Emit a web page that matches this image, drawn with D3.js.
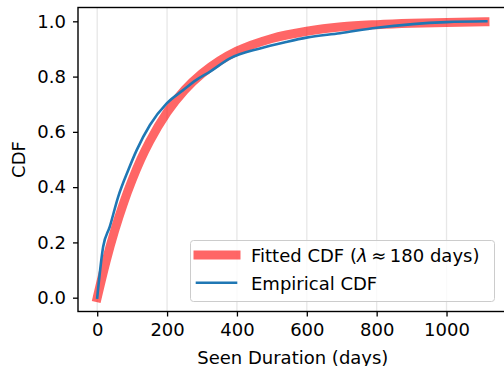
<!DOCTYPE html>
<html>
<head>
<meta charset="utf-8">
<script src="https://cdn.jsdelivr.net/npm/d3@7"></script>
<style>
body{margin:0;background:#fff;}
text{font-family:'DejaVu Sans',sans-serif;fill:#000;}
</style>
</head>
<body>
<script>
// fitted exponential cdf
var fitDays=[0,25,50,75,100,125,150,200,250,300,350,400,500,600,700,800,900,1000,1110];
var fitCdf=[0,0.13,0.243,0.341,0.426,0.501,0.565,0.671,0.751,0.811,0.857,0.892,0.938,0.964,0.980,0.988,0.993,0.996,0.998];
// empirical cdf
var empDays=[0,17,36,60,89,113,151,199,246,284,323,380,466,540,599,695,800,904,1000,1114];
var empCdf=[0,0.184,0.257,0.365,0.462,0.534,0.625,0.703,0.751,0.788,0.818,0.866,0.902,0.925,0.941,0.957,0.977,0.990,0.997,1.0];
var xTicks=[0,200,400,600,800,1000];
var yTicks=[0,0.2,0.4,0.6,0.8,1.0];

var width=504,height=366;
var svg=d3.select('body').append('svg')
  .attr('width',width).attr('height',height);

var xScale=d3.scaleLinear().domain([-55,1176]).range([78,508]);
var yScale=d3.scaleLinear().domain([-0.05,1.05]).range([311.5,7.5]);

// vertical grid
svg.append('g').selectAll('line').data(xTicks).enter().append('line')
  .attr('x1',d=>xScale(d)).attr('x2',d=>xScale(d))
  .attr('y1',yScale(1.05)).attr('y2',yScale(-0.05))
  .style('stroke','#b0b0b0').style('stroke-opacity',0.3).style('stroke-width',1.3);

var line=d3.line().curve(d3.curveMonotoneX)
  .x(d=>xScale(d[0])).y(d=>yScale(d[1]));

svg.append('path')
  .datum(fitDays.map((d,i)=>[d,fitCdf[i]]))
  .attr('d',line)
  .style('fill','none').style('stroke','red').style('stroke-opacity',0.6)
  .style('stroke-width',9).style('stroke-linecap','square').style('stroke-linejoin','round');

svg.append('path')
  .datum(empDays.map((d,i)=>[d,empCdf[i]]))
  .attr('d',line)
  .style('fill','none').style('stroke','#1f77b4')
  .style('stroke-width',2.6).style('stroke-linecap','square').style('stroke-linejoin','round');

// axes
var xAxis=d3.axisBottom(xScale).tickValues(xTicks).tickSize(5).tickPadding(7).tickFormat(d3.format('d'));
var yAxis=d3.axisLeft(yScale).tickValues(yTicks).tickSize(5).tickPadding(7).tickFormat(d3.format('.1f'));

var gx=svg.append('g').attr('transform','translate(0,311.5)').call(xAxis);
var gy=svg.append('g').attr('transform','translate(78,0)').call(yAxis);
[gx,gy].forEach(function(g){
  g.select('.domain').remove();
  g.selectAll('line').style('stroke','#000').style('stroke-width',1.3);
  g.selectAll('text').style('font-size','18px').style('font-family','DejaVu Sans').attr('fill','#000');
});

// spines (right one falls outside the picture)
svg.append('rect')
  .attr('x',78).attr('y',7.5).attr('width',430).attr('height',304)
  .style('fill','none').style('stroke','#000').style('stroke-width',1.4);

svg.append('text')
  .attr('x',xScale(560)).attr('y',364)
  .attr('text-anchor','middle').style('font-size','18px')
  .text('Seen Duration (days)');

svg.append('text')
  .attr('transform','translate(25,159.5) rotate(-90)')
  .attr('text-anchor','middle').style('font-size','18px')
  .text('CDF');

// legend
var legend=svg.append('g').attr('id','legend');
legend.append('rect')
  .attr('x',190.5).attr('y',240.5).attr('width',304).attr('height',61).attr('rx',3)
  .style('fill','#fff').style('fill-opacity',0.8)
  .style('stroke','#cccccc').style('stroke-width',1);

legend.append('line')
  .attr('x1',198).attr('x2',236).attr('y1',255).attr('y2',255)
  .style('stroke','red').style('stroke-opacity',0.6).style('stroke-width',9).style('stroke-linecap','square');
legend.append('line')
  .attr('x1',197).attr('x2',236).attr('y1',282.7).attr('y2',282.7)
  .style('stroke','#1f77b4').style('stroke-width',2.6).style('stroke-linecap','square');

var t1=legend.append('text').attr('x',251).attr('y',261.5).style('font-size','18px');
t1.append('tspan').text('Fitted CDF (');
t1.append('tspan').style('font-style','italic').text('λ');
t1.append('tspan').text('\u2009≈\u2009180 days)');

legend.append('text').attr('x',251).attr('y',289.5).style('font-size','18px')
  .text('Empirical CDF');
</script>
</body>
</html>
